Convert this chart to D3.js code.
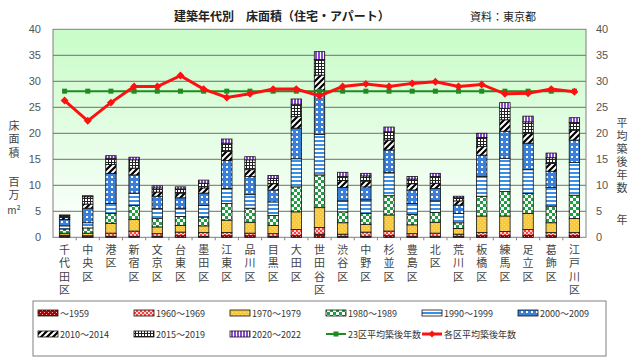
<!DOCTYPE html>
<html><head><meta charset="utf-8">
<script src="https://cdn.jsdelivr.net/npm/d3@7/dist/d3.min.js"></script>
<style>
body{margin:0;background:#fff;}
svg text{font-family:"Noto Sans CJK JP","Noto Sans",sans-serif;}
.vt{writing-mode:vertical-rl;text-orientation:upright;}
</style></head>
<body><svg id="c" width="640" height="358"></svg>
<script>
const districts = ["千代田区","中央区","港区","新宿区","文京区","台東区","墨田区","江東区","品川区","目黒区","大田区","世田谷区","渋谷区","中野区","杉並区","豊島区","北区","荒川区","板橋区","練馬区","足立区","葛飾区","江戸川区"];
const seriesNames = ["～1959","1960～1969","1970～1979","1980～1989","1990～1999","2000～2009","2010～2014","2015～2019","2020～2022"];
const s1959 = [0.2,0.1,0.2,0.2,0.2,0.3,0.2,0.3,0.3,0.2,0.3,0.6,0.2,0.2,0.3,0.2,0.2,0.2,0.3,0.3,0.4,0.3,0.3];
const s1960 = [0.2,0.2,0.6,1.0,0.5,0.7,0.7,0.6,0.5,0.5,1.2,1.3,0.4,0.8,0.9,0.5,0.6,0.4,0.6,0.8,1.1,0.6,0.6];
const s1970 = [0.4,0.5,1.9,2.2,1.3,1.3,1.3,2.4,2.1,1.6,3.4,3.8,2.2,1.5,3.1,1.7,2.1,1.1,3.2,3.0,3.1,1.9,2.7];
const s1980 = [0.8,1.0,1.9,2.7,1.6,1.7,1.7,3.2,2.7,1.9,4.8,6.3,2.1,2.1,3.7,2.0,1.9,1.1,3.8,4.7,3.8,3.2,4.5];
const s1990 = [0.6,1.0,1.9,2.4,1.9,1.6,2.2,2.9,2.6,2.6,5.4,7.8,2.1,2.6,4.5,2.1,2.2,1.8,3.8,6.4,4.6,3.6,6.3];
const s2000 = [1.2,2.8,5.8,3.5,2.4,2.0,2.4,5.4,3.5,2.3,5.9,8.5,2.6,2.5,4.3,2.6,2.4,1.6,4.1,5.2,5.1,3.1,4.3];
const s2010 = [0.4,0.8,1.7,1.3,0.8,0.9,1.0,1.7,1.3,1.2,2.2,2.9,1.3,1.1,1.9,1.2,1.0,0.8,1.7,2.2,1.9,1.5,1.9];
const s2015 = [0.4,1.4,1.2,1.6,0.8,0.8,0.9,1.6,1.9,1.0,2.4,3.0,0.8,1.0,1.6,0.9,1.3,0.6,1.7,2.2,2.2,1.1,1.5];
const s2020 = [0.1,0.2,0.5,0.5,0.4,0.4,0.6,0.8,0.6,0.6,1.0,1.5,0.8,0.5,0.9,0.5,0.6,0.3,0.8,1.1,1.1,0.9,0.9];
const avg23 = [28.1,28.1,28.1,28.1,28.1,28.1,28.1,28.1,28.1,28.1,28.1,28.1,28.1,28.1,28.1,28.1,28.1,28.1,28.1,28.1,28.1,28.1,28.1];
const avgWard = [26.3,22.4,25.9,29.0,29.0,31.1,28.5,26.9,27.6,28.5,28.5,27.2,29.0,29.5,29.0,29.6,29.9,29.0,29.4,27.6,27.7,28.5,28.0];
const yTicks = [0,5,10,15,20,25,30,35,40];

const svg = d3.select("#c");
const L=53, R=586, T=29.3, B=237.3;
const x = d3.scaleBand().domain(districts).range([L,R]).paddingInner(0.55).paddingOuter(0.275);
const xs = d3.scaleBand().domain(districts).range([L,R]);
const y = d3.scaleLinear().domain([0,40]).range([B,T]);
const y2 = d3.scaleLinear().domain([0,40]).range([B,T]);

const defs = svg.append("defs");
const g0 = defs.append("linearGradient").attr("id","bg").attr("x1",0).attr("y1",0).attr("x2",0).attr("y2",1);
g0.append("stop").attr("offset","0%").attr("stop-color","#c8fcc8");
g0.append("stop").attr("offset","100%").attr("stop-color","#ffffff");

function pat(id,w,h,bg,draw){
  const p = defs.append("pattern").attr("id",id).attr("patternUnits","userSpaceOnUse").attr("width",w).attr("height",h);
  p.append("rect").attr("width",w).attr("height",h).attr("fill",bg);
  draw(p);
}
const fg=(p,x0,y0,w,h,c)=>p.append("rect").attr("x",x0).attr("y",y0).attr("width",w).attr("height",h).attr("fill",c);
pat("p0",4,4,"#b00000",p=>{fg(p,0,0,1,1,"#ffb0b0");fg(p,2,2,1,1,"#ffb0b0");});
pat("p1",4,4,"#ff4040",p=>{fg(p,0,0,2,2,"#ffd0d0");fg(p,2,2,2,2,"#ffd0d0");});
pat("p2",4,4,"#ffc830",p=>{fg(p,0,0,1,1,"#ffe070");fg(p,2,2,1,1,"#ffe070");});
pat("p3",6,6,"#1fa040",p=>{fg(p,0,0,3,3,"#ffffff");fg(p,3,3,3,3,"#ffffff");});
pat("p4",4,4,"#3a90e8",p=>{fg(p,0,2,4,2,"#ffffff");});
pat("p5",5,5,"#3a80d8",p=>{fg(p,1,1,2,2,"#ffffff");});
pat("p6",6,6,"#ffffff",p=>{p.append("path").attr("d","M-1,7 L7,-1 M-4,4 L4,-4 M2,10 L10,2").attr("stroke","#000").attr("stroke-width",2.2);});
pat("p7",3,3,"#222",p=>{fg(p,1,1,2,2,"#ffffff");});
pat("p8",3,3,"#8a48d0",p=>{fg(p,2,0,1,3,"#ffffff");});
const fills = ["url(#p0)","url(#p1)","url(#p2)","url(#p3)","url(#p4)","url(#p5)","url(#p6)","url(#p7)","url(#p8)"];

// plot background
svg.append("rect").attr("x",L).attr("y",T).attr("width",R-L).attr("height",B-T).attr("fill","url(#bg)");
// grid
svg.append("g").selectAll("line").data(yTicks.slice(1,-1)).join("line")
  .attr("x1",L).attr("x2",R).attr("y1",d=>y(d)).attr("y2",d=>y(d)).attr("stroke","#707070").attr("stroke-width",1);
svg.append("rect").attr("x",L).attr("y",T).attr("width",R-L).attr("height",B-T).attr("fill","none").attr("stroke","#808080");

// axes
const ax = svg.append("g").attr("transform",`translate(${L},0)`).call(d3.axisLeft(y).tickValues(yTicks).tickSize(0).tickPadding(12));
const ax2 = svg.append("g").attr("transform",`translate(${R},0)`).call(d3.axisRight(y2).tickValues(yTicks).tickSize(0).tickPadding(10));
[ax,ax2].forEach(a=>{a.select(".domain").remove();a.selectAll("text").attr("fill","#555").attr("font-size",11).style("font-family","'Liberation Sans',Arial,sans-serif");});
// category ticks
svg.append("g").selectAll("line").data(districts.slice(1)).join("line")
  .attr("x1",d=>xs(d)).attr("x2",d=>xs(d)).attr("y1",B).attr("y2",B+3).attr("stroke","#808080");

// bars
const rows = districts.map((d,i)=>({d, v:[s1959[i],s1960[i],s1970[i],s1980[i],s1990[i],s2000[i],s2010[i],s2015[i],s2020[i]]}));
const stack = d3.stack().keys(d3.range(9)).value((r,k)=>r.v[k]);
const st = stack(rows);
const bg = svg.append("g");
st.forEach((layer,k)=>{
  bg.append("g").selectAll("rect").data(layer).join("rect")
    .attr("x",p=>x(p.data.d)).attr("width",x.bandwidth())
    .attr("y",p=>y(p[1])).attr("height",p=>y(p[0])-y(p[1]))
    .attr("fill",fills[k]).attr("stroke","#111").attr("stroke-width",0.8);
});

// lines
const cx = d=>x(d)+x.bandwidth()/2;
const lineG = d3.line().x((v,i)=>cx(districts[i])).y(v=>y2(v));
svg.append("path").attr("d",lineG(avg23)).attr("fill","none").attr("stroke","#1f8c1f").attr("stroke-width",2);
svg.append("g").selectAll("rect").data(avg23).join("rect")
  .attr("x",(v,i)=>cx(districts[i])-2.5).attr("y",v=>y2(v)-2.5).attr("width",5).attr("height",5).attr("fill","#1f8c1f");
svg.append("path").attr("d",lineG(avgWard)).attr("fill","none").attr("stroke","#ff1010").attr("stroke-width",3);
svg.append("g").selectAll("path").data(avgWard).join("path")
  .attr("transform",(v,i)=>`translate(${cx(districts[i])},${y2(v)})`)
  .attr("d",d3.symbol(d3.symbolDiamond2,40)).attr("fill","#ff1010");

// x labels vertical
svg.append("g").selectAll("text").data(districts).join("text").attr("class","vt")
  .attr("x",d=>cx(d)).attr("y",244).attr("font-size",11).attr("letter-spacing",2.5).attr("fill","#444").text(d=>d);

// axis titles
const vt=(s,x0,y0,ls)=>svg.append("text").attr("class","vt").attr("x",x0).attr("y",y0).attr("font-size",11).attr("letter-spacing",ls).attr("fill","#444").text(s);
vt("床面積",14,120,2.5);
vt("百万",14,176,2.5);
svg.append("text").attr("x",14).attr("y",214).attr("text-anchor","middle").attr("font-size",10).attr("fill","#444").text("m²");
vt("平均築後年数",622,117,2);
vt("年",622,214,0);

// title
svg.append("text").attr("x",282).attr("y",21).attr("text-anchor","middle").attr("font-size",12).attr("font-weight","bold").attr("fill","#222").text("建築年代別　床面積（住宅・アパート）");
svg.append("text").attr("x",503).attr("y",21).attr("text-anchor","middle").attr("font-size",11).attr("fill","#222").text("資料：東京都");

// legend
svg.append("rect").attr("x",33).attr("y",301).attr("width",573).attr("height",55).attr("fill","#fff").attr("stroke","#808080");
const legItems = seriesNames.map((n,k)=>({n,type:"bar",k})).concat([{n:"23区平均築後年数",type:"g"},{n:"各区平均築後年数",type:"r"}]);
const lg = svg.append("g");
legItems.forEach((it,i)=>{
  const col=i%6,row=Math.floor(i/6);
  const lx=38+col*96, ly=313+row*21;
  if(it.type==="bar"){
    lg.append("rect").attr("x",lx).attr("y",ly-3).attr("width",20).attr("height",6).attr("fill",fills[it.k]).attr("stroke","#111").attr("stroke-width",0.8);
  } else {
    const c = it.type==="g"?"#1f8c1f":"#ff1010";
    lg.append("line").attr("x1",lx).attr("x2",lx+20).attr("y1",ly).attr("y2",ly).attr("stroke",c).attr("stroke-width",it.type==="g"?2:3);
    if(it.type==="g") lg.append("rect").attr("x",lx+7.5).attr("y",ly-2.5).attr("width",5).attr("height",5).attr("fill",c);
    else lg.append("path").attr("transform",`translate(${lx+10},${ly})`).attr("d",d3.symbol(d3.symbolDiamond2,30)).attr("fill",c);
  }
  lg.append("text").attr("x",lx+22).attr("y",ly+3.5).attr("font-size",9).attr("fill","#333").text(it.n);
});
</script></body></html>
